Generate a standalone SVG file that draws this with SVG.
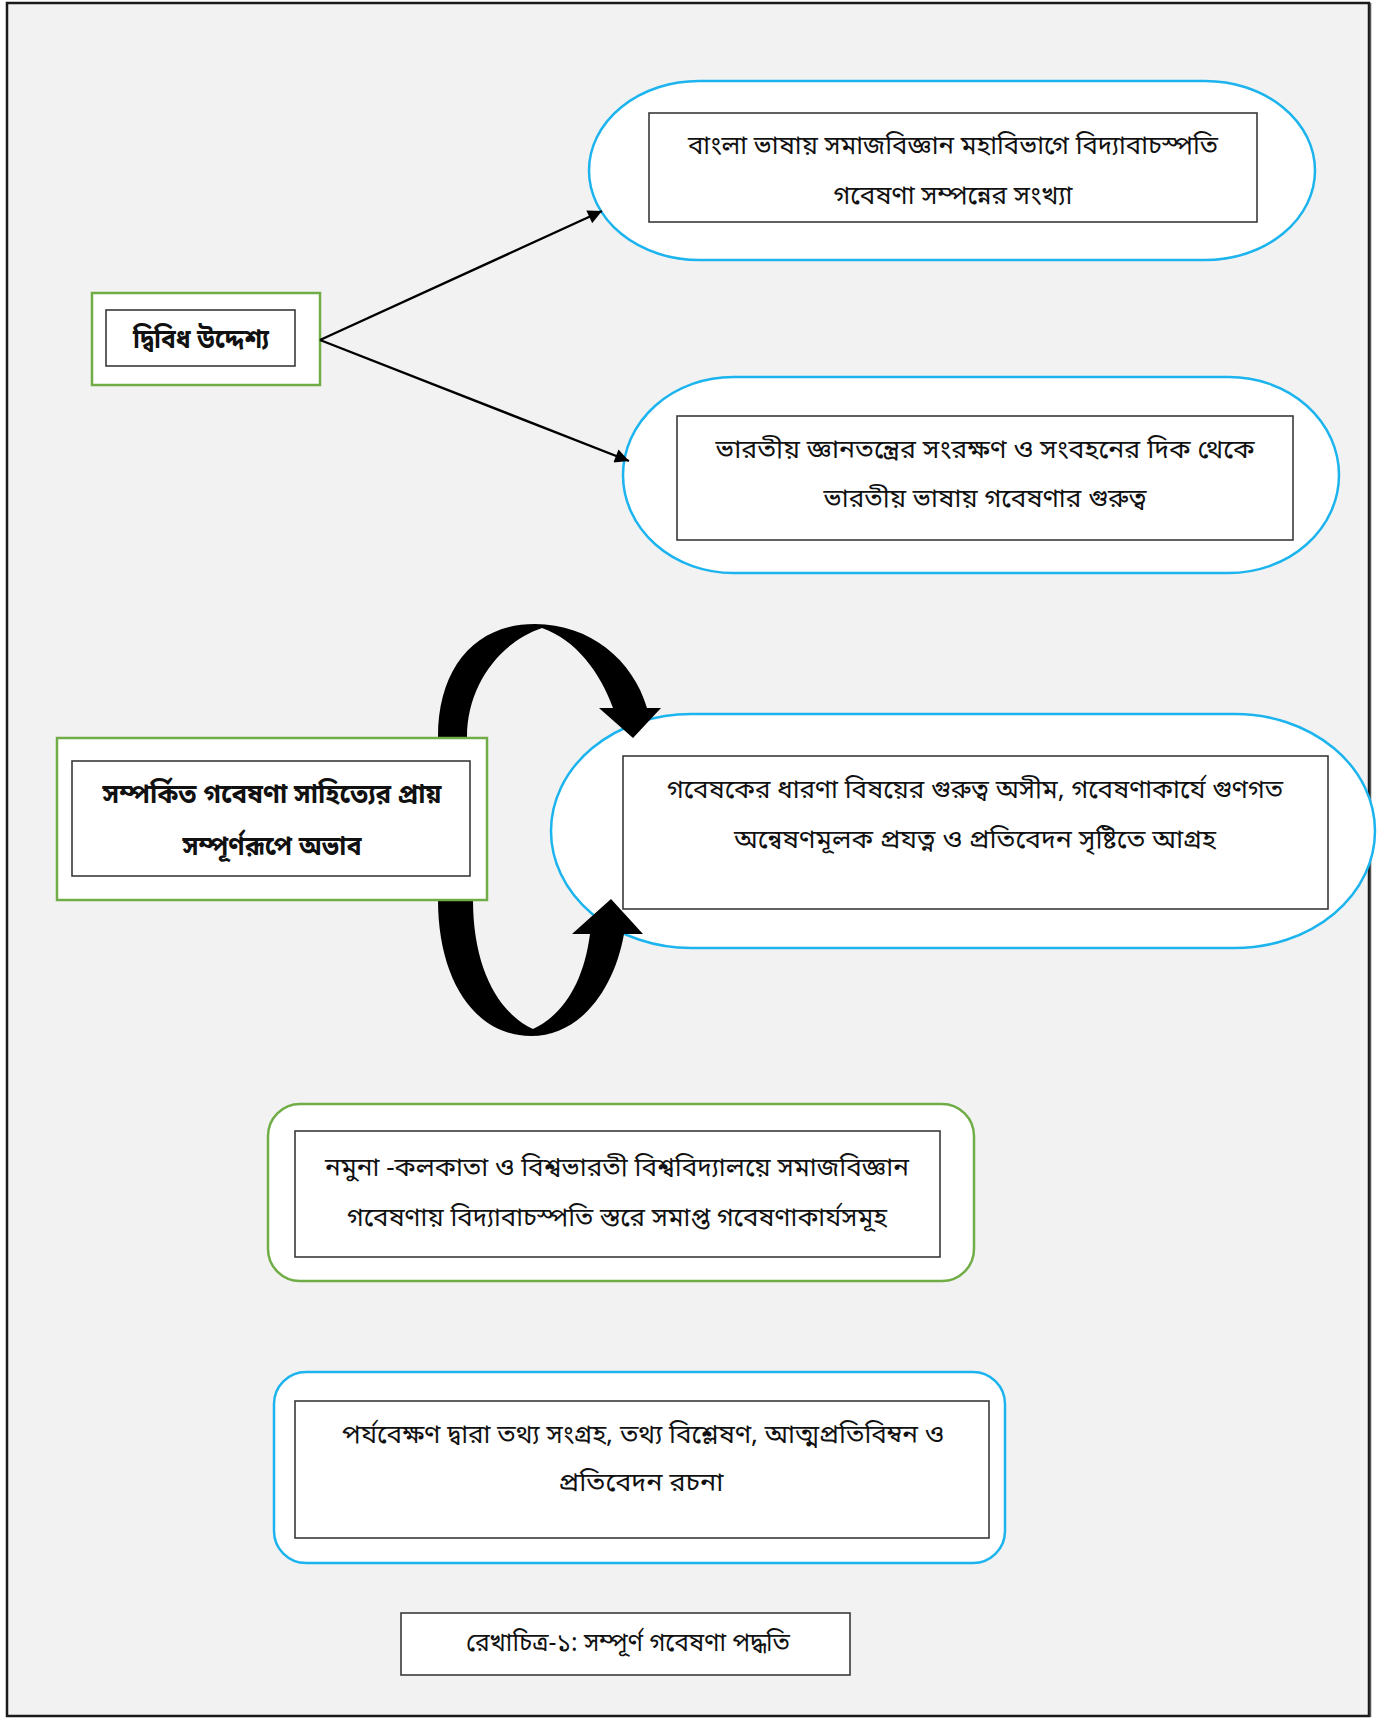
<svg xmlns="http://www.w3.org/2000/svg" width="1383" height="1720" viewBox="0 0 1383 1720">
<style>
text{font-family:"Noto Sans Bengali","Noto Sans","Lohit Bengali","Noto Serif Bengali",sans-serif;font-size:26px;fill:#111;text-anchor:middle;dominant-baseline:central}
.b{font-weight:bold}
.inner{fill:#fff;stroke:#3a3a3a;stroke-width:1.6}
.green{fill:#fff;stroke:#70ad47;stroke-width:2.5}
.blue{fill:#fff;stroke:#1cb4ee;stroke-width:2.5}
.conn{stroke:#000;stroke-width:2.4;fill:none}
</style>
<defs>
<marker id="ah" viewBox="0 0 10 10" refX="10" refY="5" markerWidth="17" markerHeight="14" markerUnits="userSpaceOnUse" orient="auto">
<path d="M0,0 L10,5 L0,10 z" fill="#000"/>
</marker>
</defs>
<rect x="0" y="0" width="1383" height="1720" fill="#fff"/>
<rect x="7" y="3" width="1362" height="1713" fill="#f2f2f2" stroke="#1a1a1a" stroke-width="2.5"/>
<line x1="1370.5" y1="3" x2="1370.5" y2="1717" stroke="#555" stroke-width="1.5"/>

<g id="node-objective1">
<rect class="blue" x="589" y="81" width="726" height="179" rx="110" ry="89.5"/>
<rect class="inner" x="649" y="113" width="608" height="109"/>
<text x="953" y="147" textLength="530" lengthAdjust="spacingAndGlyphs">বাংলা ভাষায় সমাজবিজ্ঞান মহাবিভাগে বিদ্যাবাচস্পতি</text>
<text x="953" y="197" textLength="239" lengthAdjust="spacingAndGlyphs">গবেষণা সম্পন্নের সংখ্যা</text>
</g>

<g id="node-objective2">
<rect class="blue" x="623" y="377" width="716" height="196" rx="110" ry="98"/>
<rect class="inner" x="677" y="416" width="616" height="124"/>
<text x="985" y="451" textLength="539" lengthAdjust="spacingAndGlyphs">ভারতীয় জ্ঞানতন্ত্রের সংরক্ষণ ও সংবহনের দিক থেকে</text>
<text x="985" y="500" textLength="323" lengthAdjust="spacingAndGlyphs">ভারতীয় ভাষায় গবেষণার গুরুত্ব</text>
</g>

<g id="node-dual">
<rect class="green" x="92" y="293" width="228" height="92"/>
<rect class="inner" x="106" y="310" width="189" height="56"/>
<text class="b" x="201" y="341" textLength="136" lengthAdjust="spacingAndGlyphs">দ্বিবিধ উদ্দেশ্য</text>
</g>

<g id="node-interest">
<rect class="blue" x="551" y="714" width="824" height="234" rx="140" ry="117"/>
<rect class="inner" x="623" y="756" width="705" height="153"/>
<text x="975" y="791" textLength="616" lengthAdjust="spacingAndGlyphs">গবেষকের ধারণা বিষয়ের গুরুত্ব অসীম, গবেষণাকার্যে গুণগত</text>
<text x="975" y="841" textLength="482" lengthAdjust="spacingAndGlyphs">অন্বেষণমূলক প্রযত্ন ও প্রতিবেদন সৃষ্টিতে আগ্রহ</text>
</g>

<g id="connectors">
<line class="conn" x1="320" y1="340" x2="602" y2="211" marker-end="url(#ah)"/>
<line class="conn" x1="320" y1="340" x2="629" y2="461" marker-end="url(#ah)"/>
<path d="M438 790 L438 737 C438 668 475 624 535 624 C590 624 633 660 647 708 L661 708 L633 738 L599 708 L613 708 C600 672 576 640 542 628 C500 642 467 685 467 737 L467 790 Z" fill="#000"/>
<path d="M438 850 L438 900 C438 980 475 1036 531 1036 C580 1036 614 990 624 934 L643 934 L611 899 L572 934 L590 934 C584 980 565 1014 533 1029 C500 1014 473 970 473 900 L473 850 Z" fill="#000"/>
</g>

<g id="node-lack">
<rect class="green" x="57" y="738" width="430" height="162"/>
<rect class="inner" x="72" y="761" width="398" height="115"/>
<text class="b" x="272" y="796" textLength="339" lengthAdjust="spacingAndGlyphs">সম্পর্কিত গবেষণা সাহিত্যের প্রায়</text>
<text class="b" x="272" y="848" textLength="179" lengthAdjust="spacingAndGlyphs">সম্পূর্ণরূপে অভাব</text>
</g>

<g id="node-sample">
<rect class="green" x="268" y="1104" width="706" height="177" rx="32" ry="32"/>
<rect class="inner" x="295" y="1131" width="645" height="126"/>
<text x="617" y="1169" textLength="584" lengthAdjust="spacingAndGlyphs">নমুনা -কলকাতা ও বিশ্বভারতী বিশ্ববিদ্যালয়ে সমাজবিজ্ঞান</text>
<text x="617" y="1219" textLength="540" lengthAdjust="spacingAndGlyphs">গবেষণায়  বিদ্যাবাচস্পতি স্তরে  সমাপ্ত গবেষণাকার্যসমূহ</text>
</g>

<g id="node-method">
<rect class="blue" x="274" y="1372" width="731" height="191" rx="32" ry="32"/>
<rect class="inner" x="295" y="1401" width="694" height="137"/>
<text x="643" y="1436" textLength="602" lengthAdjust="spacingAndGlyphs">পর্যবেক্ষণ দ্বারা তথ্য সংগ্রহ, তথ্য বিশ্লেষণ, আত্মপ্রতিবিম্বন ও</text>
<text x="641" y="1484" textLength="165" lengthAdjust="spacingAndGlyphs">প্রতিবেদন রচনা</text>
</g>

<g id="caption">
<rect class="inner" x="401" y="1613" width="449" height="62"/>
<text x="628" y="1644" textLength="324" lengthAdjust="spacingAndGlyphs">রেখাচিত্র-১: সম্পূর্ণ গবেষণা পদ্ধতি</text>
</g>
</svg>
